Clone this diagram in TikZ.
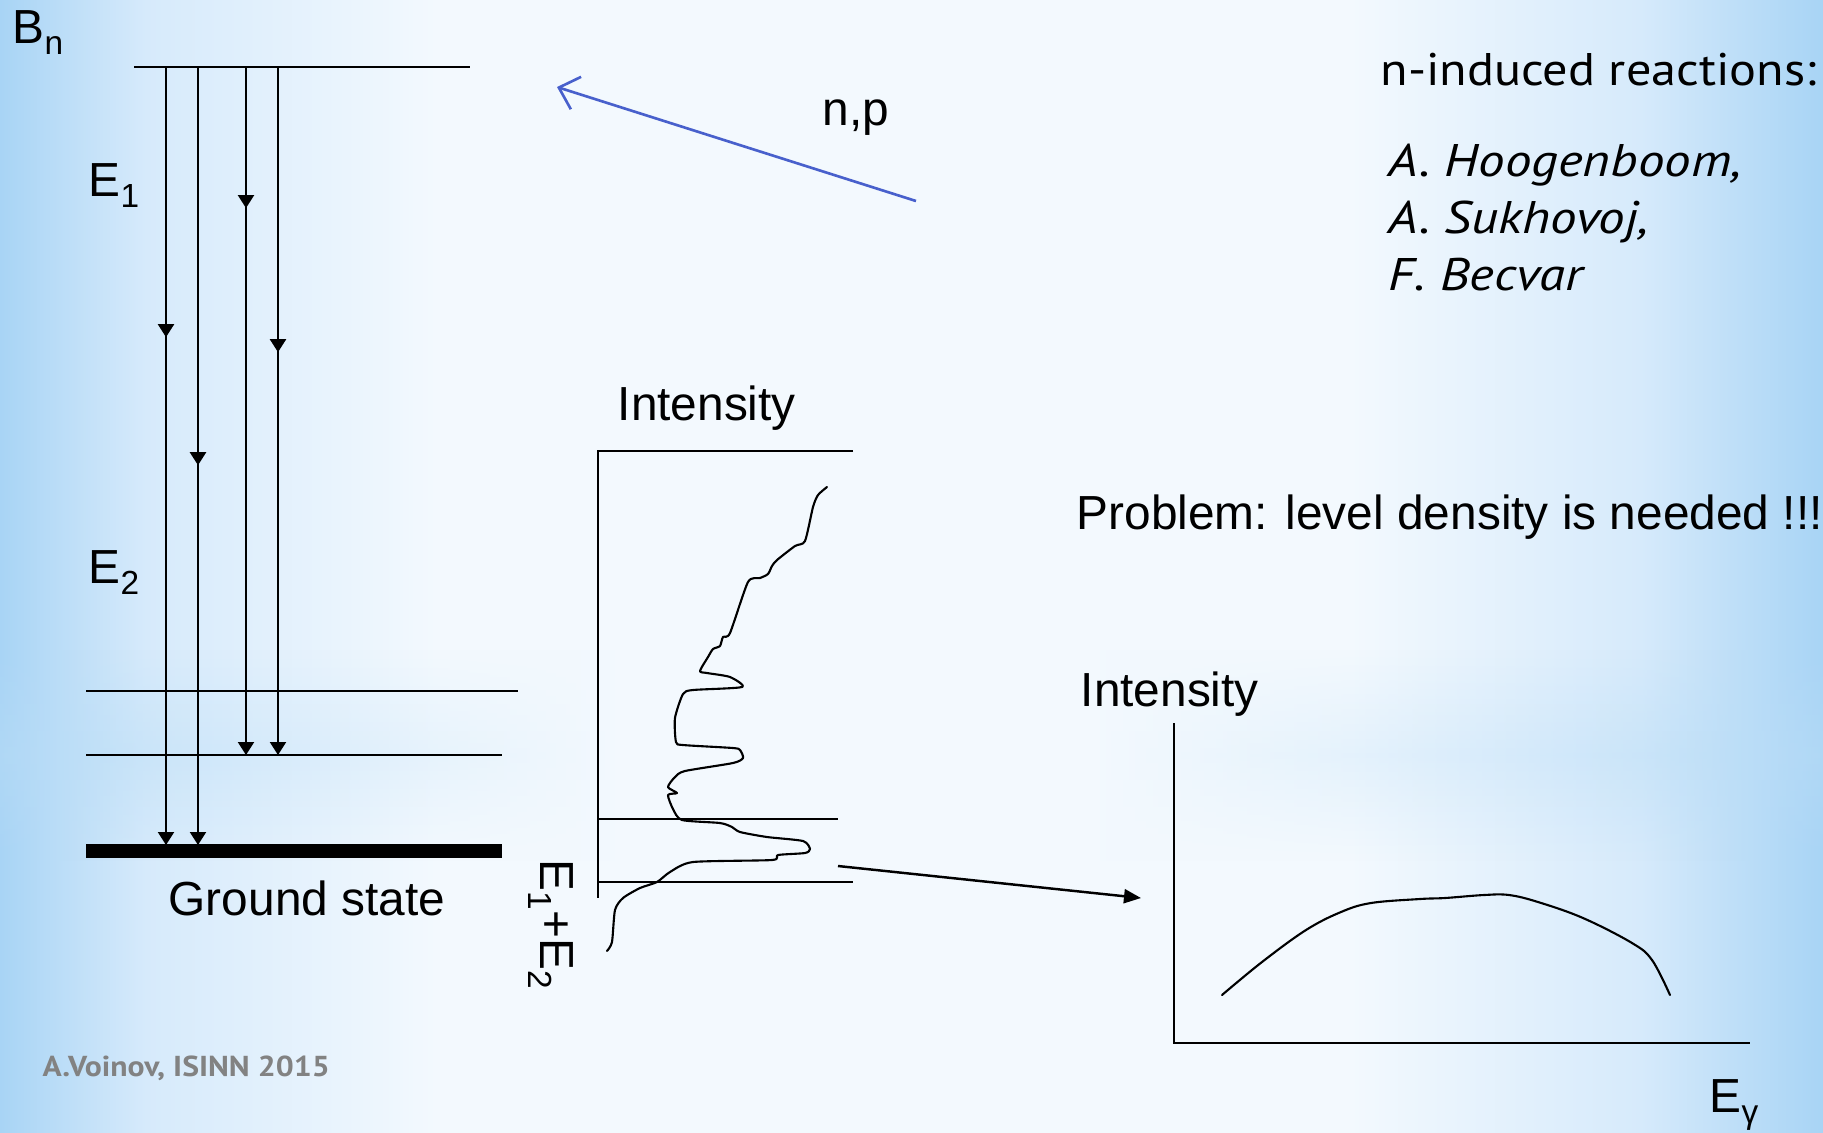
\documentclass[tikz,border=0pt]{standalone}
\usepackage{fontspec}
\setmainfont{Liberation Sans}
\newfontfamily\ptsans[FakeStretch=1.1]{PT Sans}
\newfontfamily\ptslant[FakeStretch=1.16]{PT Sans Italic}
\usetikzlibrary{positioning,arrows.meta,decorations.markings,fadings}
\definecolor{bgedge}{RGB}{168,212,245}
\definecolor{bgsoft}{RGB}{214,234,251}
\definecolor{bgmid}{RGB}{243,249,254}
\definecolor{bandblue}{RGB}{180,218,246}
\definecolor{npblue}{RGB}{72,96,204}
\definecolor{creditgray}{RGB}{130,130,130}
\pgfdeclarehorizontalshading{slidebg}{100bp}{color(0bp)=(bgedge); color(25bp)=(bgedge); color(29bp)=(bgsoft); color(37bp)=(bgmid); color(62bp)=(bgmid); color(70bp)=(bgsoft); color(75bp)=(bgedge); color(100bp)=(bgedge)}
\pgfdeclarehorizontalshading{bandbg}{100bp}{color(0bp)=(bandblue); color(25bp)=(bandblue); color(42bp)=(bgmid); color(55bp)=(bgmid); color(75bp)=(bandblue); color(100bp)=(bandblue)}
\tikzfading[name=bandfade, top color=transparent!100, bottom color=transparent!100, middle color=transparent!35]
\newcommand{\lowsub}[1]{\raisebox{-0.24em}{\fontsize{9.5}{10}\selectfont #1}}

\begin{document}
\begin{tikzpicture}[x=0.01cm, y=-0.01cm,
  font=\fontsize{13.6}{16}\selectfont,
  lvl/.style={line width=0.6pt},
  gam/.style={line width=0.6pt, -{Triangle[length=1.3mm,width=1.6mm]}},
  midtip/.style={postaction={decorate, decoration={markings, mark=at position #1 with {\arrow{Triangle[length=1.3mm,width=1.6mm]}}}}},
  lbl/.style={inner sep=0pt, anchor=base west},
  ptx/.style={lbl, font=\ptsans\fontsize{13}{16}\selectfont},
  who/.style={lbl, font=\ptslant\fontsize{13}{16}\selectfont},
  spec/.style={line width=0.6pt, line join=round, line cap=round},
  conn/.style={line width=0.7pt, -{Triangle[length=1.7mm,width=1.4mm]}}]

\useasboundingbox (0,0) rectangle (1823,1132);
\shade[shading=slidebg] (0,0) rectangle (1823,1132);
\shade[shading=bandbg, path fading=bandfade] (0,650) rectangle (1823,860);

\node[lbl] (bn) at (12,43) {B\lowsub{n}};
\node[lbl] (eone) at (88,196) {E\lowsub{1}};
\node[lbl] (etwo) at (88,583) {E\lowsub{2}};

\draw[lvl] (134,67) coordinate (bnl) -- (470,67) coordinate (bnr);
\draw[lvl] (86,691) coordinate (lvtwo) -- (518,691);
\draw[lvl] (86,755) coordinate (lvone) -- (502,755);
\node[fill, inner sep=0pt, minimum width=4.16cm, minimum height=0.14cm] (gs) at (294,851) {};
\node[lbl] (gstxt) at (168,915) {Ground state};

\coordinate (ga1) at (166,67);
\coordinate (gb1) at (166,845);
\coordinate (ga2) at (198,67);
\coordinate (gb2) at (198,845);
\coordinate (ga3) at (246,67);
\coordinate (gb3) at (246,755);
\coordinate (ga4) at (278,67);
\coordinate (gb4) at (278,755);
\draw[gam, midtip=2.70cm] (ga1) -- (gb1);
\draw[gam, midtip=3.98cm] (ga2) -- (gb2);
\draw[gam, midtip=1.41cm] (ga3) -- (gb3);
\draw[gam, midtip=2.85cm] (ga4) -- (gb4);

\coordinate (npfrom) at (916,201);
\coordinate (npto) at (557,87);
\draw[npblue, line width=0.75pt, -{Straight Barb[length=1.8mm,width=3.4mm]}] (npfrom) -- (npto);
\node[lbl] (np) at (822,125) {n,p};

\node[lbl] (intl) at (617,420) {Intensity};
\draw[lvl] (853,451) -- (598,451) -- (598,898);
\draw[lvl] (598,819) -- (838,819);
\draw[lvl] (598,882) -- (853,882);
\draw[spec] plot[smooth, tension=0.4] coordinates {(827,487) (818,495) (813,507) (805,541) (795,546) (777,560) (772,566) (768,574) (760,578) (748,582) (730,633) (723,637) (720,646) (713,649) (708,657) (700,671) (707,673) (730,677) (742,687) (693,690) (683,694) (675,718) (676,742) (683,745) (733,748) (740,750) (743,758) (733,763) (685,771) (675,777) (668,787) (677,793) (668,795) (673,809) (682,820) (720,823) (732,827) (740,832) (767,837) (803,841) (810,849) (805,853) (778,855) (772,860) (693,862) (670,872) (657,882) (640,888) (623,898) (615,910) (612,942) (607,951)};
\node[lbl, rotate=-90] (esum) at (540,859) {E\lowsub{1}+E\lowsub{2}};

\coordinate (cutfrom) at (838,866);
\coordinate (cutto) at (1141,898);
\draw[conn] (cutfrom) -- (cutto);

\node[lbl] (intr) at (1080,706) {Intensity};
\draw[lvl] (1174,723) -- (1174,1043) -- (1750,1043);
\draw[spec] plot[smooth, tension=0.6] coordinates {(1222,995) (1262,962) (1306,930) (1341,912) (1371,903) (1420,899) (1445,898) (1484,895) (1509,895) (1538,902) (1583,918) (1632,943) (1652,960) (1670,995)};
\node[lbl] (egam) at (1709,1112) {E\lowsub{γ}};

\node[lbl] (problem) at (1076,529) {Problem: level density is needed !!!};

\node[ptx] (reac) at (1380,85) {n-induced reactions:};
\node[who] (hoog) at (1388,176) {A. Hoogenboom,};
\node[who] (sukh) at (1388,233) {A. Sukhovoj,};
\node[who] (becv) at (1388,290) {F. Becvar};

\node[lbl, font=\ptsans\bfseries\fontsize{8.2}{10}\selectfont, text=creditgray] (credit) at (42,1076) {A.Voinov, ISINN 2015};
\end{tikzpicture}
\end{document}
